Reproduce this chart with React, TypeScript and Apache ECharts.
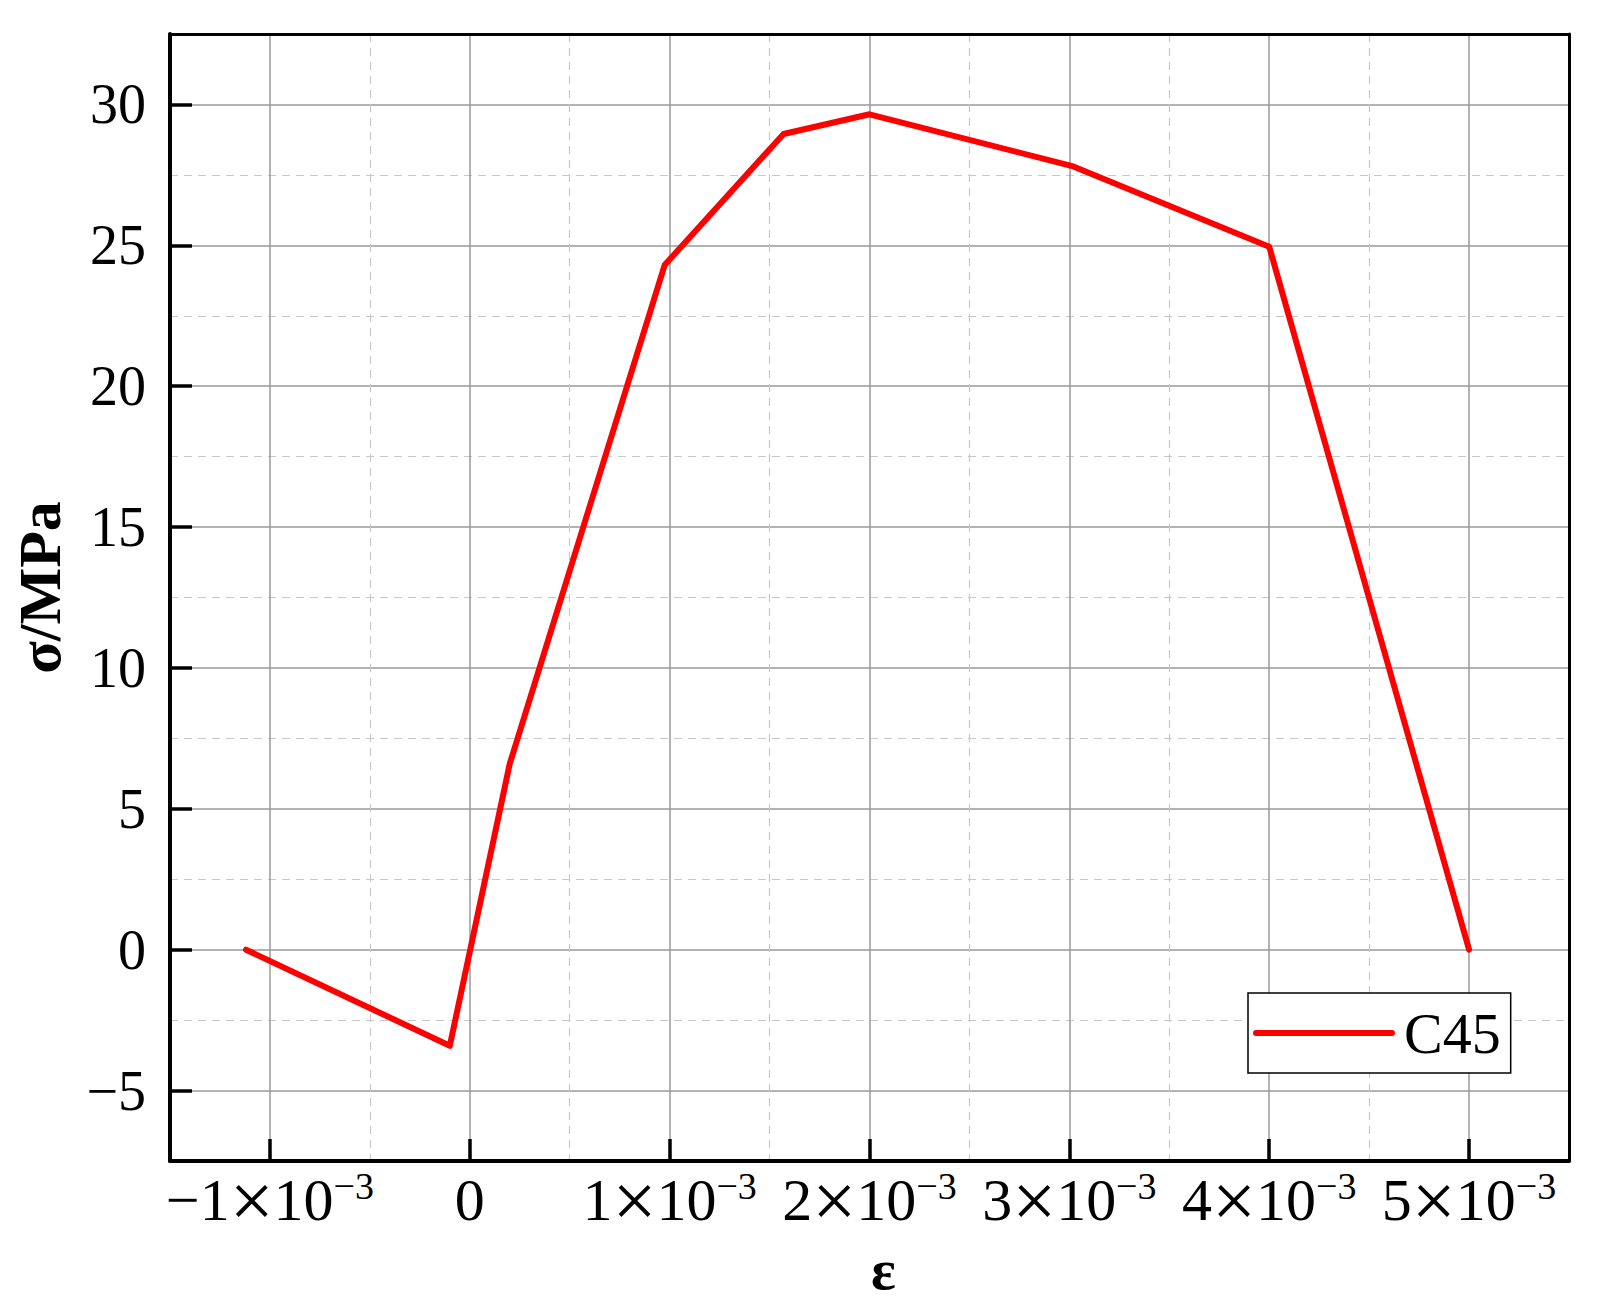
import React, { useEffect, useRef } from "react";
import * as echarts from "echarts";

const strain = [-0.00112, -0.0001, 0.0002, 0.000975, 0.00157, 0.002, 0.00302, 0.004, 0.005];
const stress = [0, -3.41, 6.6, 24.3, 28.95, 29.65, 27.8, 24.95, 0];
const xTicks = [-0.001, 0, 0.001, 0.002, 0.003, 0.004, 0.005];
const yTicks = [-5, 0, 5, 10, 15, 20, 25, 30];
const seriesName = "C45";
const xName = "ε";
const yName = "σ/MPa";

const SERIF = '"Liberation Serif", "Times New Roman", serif';

function xLabel(v: number): string {
  const m = Math.round(v * 1000);
  if (m === 0) return "{n|0}";
  const s = (m < 0 ? "\u2212" : "") + Math.abs(m);
  return `{n|${s}}{x|×}{n|10}{s|\u22123}`;
}

function yLabel(v: number): string {
  return v < 0 ? "\u2212" + Math.abs(v) : String(v);
}

export default function App() {
  const ref = useRef<HTMLDivElement>(null);
  useEffect(() => {
    document.body.style.margin = "0";
    if (!ref.current) return;
    const chart = echarts.init(ref.current, null, { renderer: "svg" });
    const data = strain.map((x, i) => [x, stress[i]]);
    const xMin = -0.0015, xMax = 0.0055, yMin = -7.5, yMax = 32.5;
    const minorGrid = { show: true, lineStyle: { color: "#9a9a9a", width: 1.5, type: "solid" } };
    const dashedGrid = {
      show: true,
      showMinLine: false,
      showMaxLine: false,
      lineStyle: { color: "#c8c8c8", width: 1.2, type: [8, 6] },
    };
    chart.setOption({
      animation: false,
      backgroundColor: "#fff",
      grid: { left: 170, right: 32, top: 34, bottom: 148, containLabel: false, outerBoundsMode: "none" },
      legend: {
        left: 1248,
        top: 993,
        orient: "horizontal",
        padding: [10, 10, 10, 5],
        borderColor: "#000",
        borderWidth: 1.5,
        backgroundColor: "#fff",
        itemWidth: 136,
        itemHeight: 20,
        itemStyle: { opacity: 0, color: "rgba(0,0,0,0)", borderWidth: 0 },
        lineStyle: { width: 6, cap: "round" },
        textStyle: { fontSize: 58, fontFamily: SERIF, color: "#000", lineHeight: 60, padding: [0, 0, 0, 7] },
        data: [seriesName],
      },
      xAxis: [
        {
          type: "value",
          position: "bottom",
          min: xMin,
          max: xMax,
          interval: 0.001,
          name: xName,
          nameLocation: "middle",
          nameGap: 79,
          nameMoveOverlap: false,
          nameTextStyle: { fontSize: 58, fontFamily: SERIF, fontWeight: "bold", color: "#000", padding: [0, 0, 0, 28] },
          axisLine: { show: true, onZero: false, lineStyle: { color: "#000", width: 4 } },
          axisTick: { show: true, inside: true, length: 22, customValues: xTicks, lineStyle: { color: "#000", width: 3.5 } },
          axisLabel: {
            show: true,
            customValues: xTicks,
            margin: 6,
            formatter: xLabel,
            rich: {
              n: { fontSize: 60, fontFamily: SERIF, color: "#000", lineHeight: 66 },
              x: { fontSize: 78, fontFamily: SERIF, color: "#000", lineHeight: 66 },
              s: { fontSize: 38, fontFamily: SERIF, color: "#000", lineHeight: 44, verticalAlign: "top" },
            },
          },
          splitLine: { show: false },
        },
        {
          type: "value",
          position: "top",
          min: xMin,
          max: xMax,
          interval: 0.001,
          axisLine: { show: true, onZero: false, lineStyle: { color: "#000", width: 3 } },
          axisTick: { show: false },
          axisLabel: { show: false },
          minorTick: { show: false, splitNumber: 2 },
          splitLine: dashedGrid,
          minorSplitLine: minorGrid,
        },
      ],
      yAxis: [
        {
          type: "value",
          position: "left",
          min: yMin,
          max: yMax,
          interval: 5,
          name: yName,
          nameLocation: "middle",
          nameRotate: 90,
          nameGap: 100,
          nameMoveOverlap: false,
          nameTextStyle: { fontSize: 60, fontFamily: SERIF, fontWeight: "bold", color: "#000", padding: [0, 0, 0, 20] },
          axisLine: { show: true, onZero: false, lineStyle: { color: "#000", width: 4 } },
          axisTick: { show: true, inside: true, length: 22, customValues: yTicks, lineStyle: { color: "#000", width: 3.5 } },
          axisLabel: {
            show: true,
            customValues: yTicks,
            margin: 24,
            formatter: yLabel,
            fontSize: 56,
            fontFamily: SERIF,
            color: "#000",
          },
          splitLine: { show: false },
        },
        {
          type: "value",
          position: "right",
          min: yMin,
          max: yMax,
          interval: 5,
          axisLine: { show: true, onZero: false, lineStyle: { color: "#000", width: 3 } },
          axisTick: { show: false },
          axisLabel: { show: false },
          minorTick: { show: false, splitNumber: 2 },
          splitLine: dashedGrid,
          minorSplitLine: minorGrid,
        },
      ],
      series: [
        {
          name: seriesName,
          type: "line",
          xAxisIndex: 0,
          yAxisIndex: 0,
          data,
          symbol: "none",
          showSymbol: false,
          lineStyle: { color: "#ff0000", width: 6, cap: "round", join: "round" },
          itemStyle: { color: "#ff0000" },
          z: 5,
        },
      ],
    });
    return () => chart.dispose();
  }, []);
  return <div ref={ref} style={{ width: 1601, height: 1309 }} />;
}
